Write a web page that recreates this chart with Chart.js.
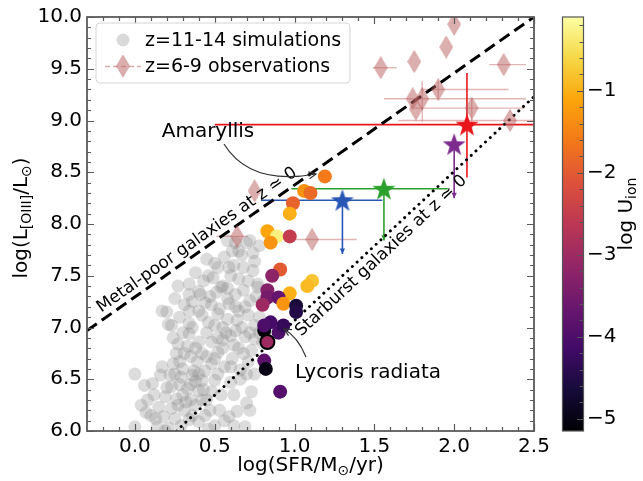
<!DOCTYPE html>
<html><head><meta charset="utf-8">
<script src="https://cdn.jsdelivr.net/npm/chart.js@4"></script>
<style>html,body{margin:0;padding:0;background:#fff}canvas{display:block}</style>
</head><body>
<canvas id="c" width="643" height="481" style="width:643px;height:481px"></canvas>
<script>
// ---------- DATA ----------
const xTicks = [0, 0.5, 1, 1.5, 2, 2.5];
const yTicks = [6, 6.5, 7, 7.5, 8, 8.5, 9, 9.5, 10];
const cbTicks = [-1, -2, -3, -4, -5];
const X_MIN = -0.3, X_MAX = 2.5, Y_MIN = 6, Y_MAX = 10, CB_MIN = -5.15, CB_MAX = -0.1;

// z=11-14 simulations (grey)
const simX = [0.63,0.70,0.61,0.56,0.45,0.78,0.75,0.68,0.59,0.49,0.43,0.34,0.27,0.55,0.65,0.71,0.77,0.63,0.51,0.58,
0.65,0.72,0.62,0.52,0.46,0.38,0.54,0.34,0.44,0.17,0.21,0.40,0.52,0.64,0.72,0.77,0.20,0.34,0.42,0.53,
0.59,0.65,0.71,0.46,0.34,0.23,0.55,0.63,0.75,0.69,0.75,0.34,0.27,0.40,0.48,0.55,0.62,0.42,0.52,0.26,
0.61,0.68,0.73,0.28,0.39,0.48,0.56,0.66,0.71,0.00,0.16,0.22,0.29,0.36,0.42,0.50,0.60,0.11,0.23,0.33,
0.40,0.48,0.73,0.12,0.19,0.26,0.35,0.45,0.04,0.15,0.23,0.31,0.38,0.59,0.64,0.10,0.18,0.25,0.34,0.40,
0.00,0.14,0.21,0.46,0.69,0.30,0.35,0.45,0.50,0.58,0.60,0.52,0.38,0.30,0.27,0.20,0.55,0.67,0.72,0.78,
0.80,0.47,0.58,0.68,0.36,0.31,0.28,0.44,0.50,0.33,0.17,0.08,0.29,0.53,0.62,0.56,0.75,0.70,0.66,0.06,
0.44,0.37,0.24,0.40,0.60,0.74,
0.30,0.38,0.45,0.52,0.57,0.43,0.47,0.35,0.25,0.32,0.28,0.40,0.54,0.60,0.65,0.70,0.63,0.58,0.48,0.41,
0.36,0.25,0.50,0.67,0.74,0.13,0.07,0.19,0.36,0.42,0.50,0.62,0.72,0.78,0.80,0.76,0.69,0.24,0.31];
const simY = [7.82,7.82,7.74,7.68,7.66,7.79,7.64,7.58,7.58,7.48,7.45,7.42,7.40,7.40,7.47,7.45,7.39,7.32,7.34,7.84,
7.74,7.84,7.60,7.58,7.50,7.53,7.39,7.32,7.24,7.16,7.03,7.16,7.13,7.07,7.26,7.42,7.15,7.16,7.12,7.18,
7.23,7.16,7.12,7.05,7.04,7.02,7.00,6.97,7.02,6.91,6.89,6.94,6.84,6.86,6.86,6.88,6.83,6.75,6.76,6.75,
6.70,6.75,6.78,6.67,6.67,6.65,6.62,6.59,6.67,6.55,6.54,6.54,6.52,6.54,6.49,6.49,6.47,6.46,6.43,6.41,
6.39,6.38,6.38,6.35,6.33,6.31,6.30,6.30,6.25,6.23,6.22,6.20,6.25,6.14,6.19,6.15,6.14,6.12,6.11,6.09,
6.04,6.04,6.03,6.02,6.04,6.60,6.72,6.95,7.02,7.08,6.92,6.55,6.48,6.35,6.25,6.42,6.80,7.00,6.95,7.10,
6.85,7.30,7.28,7.36,7.00,7.22,7.10,6.58,6.70,6.82,6.62,6.30,6.05,6.20,6.35,6.10,6.55,6.27,6.50,6.44,
6.15,6.58,6.90,7.35,7.50,7.55,
6.95,6.80,6.72,6.90,6.95,6.40,6.20,6.45,6.55,6.28,6.45,6.55,6.35,6.62,6.80,6.55,7.20,7.38,7.22,7.32,
7.25,7.28,7.62,7.70,7.72,6.12,6.18,6.00,6.15,6.30,6.05,6.05,6.20,6.95,7.25,7.30,7.20,6.65,6.75];

// simulations coloured by log U_ion
const colX = [1.19,1.06,1.10,0.99,0.97,0.83,0.89,0.97,0.85,0.91,0.86,1.11,1.08,0.83,0.83,0.97,0.90,0.93,0.80,1.01,1.01,0.85,0.81,0.90,0.93,0.81,0.83,0.81,0.82,0.91];
const colY = [8.46,8.32,8.30,8.20,8.10,7.93,7.88,7.88,7.82,7.56,7.50,7.45,7.40,7.36,7.29,7.33,7.29,7.23,7.22,7.21,7.15,7.05,6.97,6.95,7.02,7.02,6.86,6.68,6.60,6.38];
const colU = [-1.6,-1.3,-1.8,-1.9,-1.0,-1.1,-0.3,-2.5,-1.3,-2.0,-3.2,-0.8,-0.9,-3.3,-3.5,-1.0,-3.7,-1.3,-3.0,-4.6,-4.5,-4.1,-5.1,-4.0,-4.3,-4.0,-3.0,-3.8,-5.0,-3.9];

// z=6-9 observations
const obsX   = [2.00,1.95,1.75,1.54,2.31,1.90,1.74,1.80,1.76,2.11,2.35,0.75,0.64,1.11];
const obsY   = [9.93,9.71,9.57,9.51,9.54,9.30,9.21,9.21,9.11,9.12,9.00,8.32,7.88,7.85];
const obsXlo = [null,null,null,1.49,2.22,1.79,1.56,null,null,1.75,1.65,null,0.51,0.96];
const obsXhi = [null,null,null,1.64,2.45,2.34,2.45,null,null,2.44,2.60,null,0.71,1.39];
const obsYlo = [null,null,null,null,null,9.22,null,8.99,null,8.87,null,null,null,null];
const obsYhi = [null,null,null,null,null,9.38,null,9.38,null,9.21,null,null,null,null];

// highlighted objects (stars)
const starX   = [2.08,2.00,1.56,1.30];
const starY   = [8.96,8.77,8.34,8.23];
const starXlo = [0.50,null,0.98,0.79];
const starXhi = [2.60,null,1.96,1.55];
const starYlo = [8.45,8.25,7.84,7.71];
const starYhi = [9.46,8.77,8.34,8.23];
const starUpper = [false,true,true,true];
const starColors = ['#e8161b','#7d2a8e','#2ca02c','#2856b6'];

// reference relations
const metalPoorX = [-0.3, 2.5], metalPoorY = [6.97, 10.0];
const starburstX = [0.26, 2.5], starburstY = [6.0, 9.23];

// ---------- helpers ----------
const INF = ['#000004','#160b39','#420a68','#6a176e','#932667','#bc3754','#dd513a','#f37819','#fca50a','#f6d746','#fcffa4'];
function hex(h){return [parseInt(h.substr(1,2),16),parseInt(h.substr(3,2),16),parseInt(h.substr(5,2),16)];}
function inferno(u){
  let t=(u-CB_MIN)/(CB_MAX-CB_MIN); t=Math.max(0,Math.min(1,t));
  const p=t*10, i=Math.min(9,Math.floor(p)), f=p-i;
  const a=hex(INF[i]), b=hex(INF[i+1]);
  return 'rgb('+a.map((v,k)=>Math.round(v+(b[k]-v)*f)).join(',')+')';
}
function makeStar(color){
  const s=26,c=document.createElement('canvas');c.width=s;c.height=s;
  const g=c.getContext('2d');g.beginPath();
  for(let k=0;k<10;k++){const r=k%2?4.8:12;const a=-Math.PI/2+k*Math.PI/5;g.lineTo(s/2+r*Math.cos(a),s/2+r*Math.sin(a)+1);}
  g.closePath();g.fillStyle=color;g.fill();return c;
}
function makeDiamond(){
  const w=14,h=23,c=document.createElement('canvas');c.width=w;c.height=h;
  const g=c.getContext('2d');g.beginPath();
  g.moveTo(w/2,0.5);g.lineTo(w-0.5,h/2);g.lineTo(w/2,h-0.5);g.lineTo(0.5,h/2);g.closePath();
  g.fillStyle='rgba(185,95,95,0.5)';g.fill();g.strokeStyle='rgba(185,95,95,0.35)';g.lineWidth=1;g.stroke();return c;
}
const diamondImg = makeDiamond();
const FONT = '"DejaVu Sans", sans-serif';

function richText(ctx, parts, cx, cy, rot, size){
  ctx.save();ctx.translate(cx,cy);ctx.rotate(rot);
  const subSize=Math.round(size*0.7);
  let w=0;
  parts.forEach(p=>{ctx.font=(p.sub?subSize:size)+'px '+FONT;w+=ctx.measureText(p.t).width;});
  let x=-w/2;ctx.textBaseline='middle';ctx.textAlign='left';ctx.fillStyle='#000';
  parts.forEach(p=>{ctx.font=(p.sub?subSize:size)+'px '+FONT;ctx.fillText(p.t,x,p.sub?size*0.28:0);x+=ctx.measureText(p.t).width;});
  ctx.restore();
}
function arrowHead(ctx, x, y, ang, len, open){
  ctx.beginPath();
  ctx.moveTo(x-len*Math.cos(ang-0.45), y-len*Math.sin(ang-0.45));
  ctx.lineTo(x,y);
  ctx.lineTo(x-len*Math.cos(ang+0.45), y-len*Math.sin(ang+0.45));
  if(open){ctx.stroke();}else{ctx.closePath();ctx.fill();}
}

const deco = {
  id:'deco',
  beforeDatasetsDraw(chart){
    const {ctx, chartArea:a, scales:{x,y}} = chart;
    ctx.save();ctx.beginPath();ctx.rect(a.left,a.top,a.right-a.left,a.bottom-a.top);ctx.clip();
    ctx.strokeStyle='rgba(200,110,110,0.5)';ctx.lineWidth=1.4;
    obsX.forEach((vx,i)=>{
      if(obsXlo[i]!==null){ctx.beginPath();ctx.moveTo(x.getPixelForValue(obsXlo[i]),y.getPixelForValue(obsY[i]));ctx.lineTo(x.getPixelForValue(obsXhi[i]),y.getPixelForValue(obsY[i]));ctx.stroke();}
      if(obsYlo[i]!==null){ctx.beginPath();ctx.moveTo(x.getPixelForValue(vx),y.getPixelForValue(obsYlo[i]));ctx.lineTo(x.getPixelForValue(vx),y.getPixelForValue(obsYhi[i]));ctx.stroke();}
    });
    starX.forEach((vx,i)=>{
      ctx.strokeStyle=starColors[i];ctx.fillStyle=starColors[i];ctx.lineWidth=1.6;
      const px=x.getPixelForValue(vx), py=y.getPixelForValue(starY[i]);
      if(starXlo[i]!==null){ctx.beginPath();ctx.moveTo(x.getPixelForValue(starXlo[i]),py);ctx.lineTo(x.getPixelForValue(starXhi[i]),py);ctx.stroke();}
      const y1=y.getPixelForValue(starYhi[i]), y2=y.getPixelForValue(starYlo[i]);
      ctx.beginPath();ctx.moveTo(px,y1);ctx.lineTo(px,y2);ctx.stroke();
      if(starUpper[i]){arrowHead(ctx,px,y2,Math.PI/2,6,false);}
    });
    ctx.restore();
  },
  afterDraw(chart){
    const {ctx, chartArea:a, scales:{x,y,cb}} = chart;
    ctx.save();
    function lineLabel(xs,ys,frac,text,off){
      const x0=x.getPixelForValue(xs[0]),y0=y.getPixelForValue(ys[0]),x1=x.getPixelForValue(xs[1]),y1=y.getPixelForValue(ys[1]);
      const ang=Math.atan2(y1-y0,x1-x0);
      ctx.save();ctx.translate(x0+(x1-x0)*frac,y0+(y1-y0)*frac);ctx.rotate(ang);
      ctx.font='17px '+FONT;ctx.fillStyle='#000';ctx.textAlign='center';ctx.textBaseline='middle';
      ctx.fillText(text,0,off);ctx.restore();
    }
    lineLabel(metalPoorX,metalPoorY,0.26,'Metal-poor galaxies at z \u2243 0',-11);
    lineLabel(starburstX,starburstY,0.55,'Starburst galaxies at z \u2243 0',12);

    ctx.fillStyle='#000';ctx.font='20px '+FONT;ctx.textBaseline='middle';
    ctx.textAlign='center';ctx.fillText('Amaryllis',208,132);
    ctx.textAlign='left';ctx.fillText('Lycoris radiata',295,373);
    ctx.strokeStyle='#333';ctx.lineWidth=1.2;
    ctx.beginPath();ctx.moveTo(224,144);ctx.quadraticCurveTo(250,186,316,174);ctx.stroke();
    arrowHead(ctx,316,174,Math.atan2(174-186,316-250),8,true);
    ctx.beginPath();ctx.moveTo(306,357);ctx.quadraticCurveTo(298,337,284,329);ctx.stroke();
    arrowHead(ctx,284,329,Math.atan2(329-337,284-298),8,true);

    ctx.strokeStyle='#5a5a5a';ctx.lineWidth=1.2;
    for(let k=Math.ceil(X_MIN*10+1e-6);k<=Math.floor(X_MAX*10+1e-6);k++){
      const v=k/10, px=Math.round(x.getPixelForValue(v))+0.5, major=(k%5===0), L=major?7:4;
      ctx.beginPath();ctx.moveTo(px,a.bottom);ctx.lineTo(px,a.bottom-L);ctx.moveTo(px,a.top);ctx.lineTo(px,a.top+L);ctx.stroke();
    }
    for(let k=Math.ceil(Y_MIN*10);k<=Math.floor(Y_MAX*10);k++){
      const v=k/10, py=Math.round(y.getPixelForValue(v))+0.5, major=(k%5===0), L=major?7:4;
      ctx.beginPath();ctx.moveTo(a.left,py);ctx.lineTo(a.left+L,py);ctx.moveTo(a.right,py);ctx.lineTo(a.right-L,py);ctx.stroke();
    }
    ctx.lineWidth=1.8;ctx.strokeRect(a.left,a.top,a.right-a.left,a.bottom-a.top);

    richText(ctx,[{t:'log(SFR/M'},{t:'\u2299',sub:true},{t:'/yr)'}],(a.left+a.right)/2,466,0,20);
    richText(ctx,[{t:'log(L'},{t:'[OIII]',sub:true},{t:'/L'},{t:'\u2299',sub:true},{t:')'}],22,218,-Math.PI/2,20);

    const lx=96,ly=23,lw=254,lh=60,r=4;
    ctx.beginPath();ctx.moveTo(lx+r,ly);ctx.arcTo(lx+lw,ly,lx+lw,ly+lh,r);ctx.arcTo(lx+lw,ly+lh,lx,ly+lh,r);ctx.arcTo(lx,ly+lh,lx,ly,r);ctx.arcTo(lx,ly,lx+lw,ly,r);ctx.closePath();
    ctx.fillStyle='rgba(255,255,255,0.85)';ctx.fill();ctx.strokeStyle='#d6d6d6';ctx.lineWidth=1;ctx.stroke();
    ctx.fillStyle='rgba(128,128,128,0.3)';ctx.beginPath();ctx.arc(123,40,6.5,0,Math.PI*2);ctx.fill();
    ctx.strokeStyle='rgba(200,110,110,0.6)';ctx.lineWidth=1.4;ctx.setLineDash([5,3]);
    ctx.beginPath();ctx.moveTo(105,66.5);ctx.lineTo(141,66.5);ctx.stroke();ctx.setLineDash([]);
    ctx.drawImage(diamondImg,123-diamondImg.width/2,66-diamondImg.height/2);
    ctx.fillStyle='#000';ctx.font='19px '+FONT;ctx.textAlign='left';ctx.textBaseline='middle';
    ctx.fillText('z=11-14 simulations',145,41);ctx.fillText('z=6-9 observations',145,67);

    const cx0=562,cw=21, ct=cb.getPixelForValue(CB_MAX), cbt=cb.getPixelForValue(CB_MIN);
    const grad=ctx.createLinearGradient(0,cbt,0,ct);
    INF.forEach((c,i)=>grad.addColorStop(i/10,c));
    ctx.fillStyle=grad;ctx.fillRect(cx0,ct,cw,cbt-ct);
    ctx.strokeStyle='#555';ctx.lineWidth=1;
    for(let k=Math.ceil(CB_MIN*5);k<=Math.floor(CB_MAX*5);k++){
      const v=k/5, py=Math.round(cb.getPixelForValue(v))+0.5, major=(k%5===0), L=major?6:3.5;
      ctx.beginPath();ctx.moveTo(cx0+cw,py);ctx.lineTo(cx0+cw-L,py);ctx.stroke();
    }
    ctx.lineWidth=1.2;ctx.strokeRect(cx0+0.5,ct,cw,cbt-ct);
    ctx.fillStyle='#000';ctx.font='20px '+FONT;ctx.textAlign='left';ctx.textBaseline='middle';
    cbTicks.forEach(v=>ctx.fillText('\u2212'+Math.abs(v),587,cb.getPixelForValue(v)));
    richText(ctx,[{t:'log U'},{t:'ion',sub:true}],627,214,-Math.PI/2,20);
    ctx.restore();
  }
};

const chart = new Chart(document.getElementById('c'), {
  type:'scatter',
  data:{datasets:[
    {label:'sims', data:simX.map((v,i)=>({x:v,y:simY[i]})), pointRadius:6.5, pointBackgroundColor:'rgba(128,128,128,0.28)', pointBorderWidth:0, order:6, clip:0},
    {label:'metal-poor', data:metalPoorX.map((v,i)=>({x:v,y:metalPoorY[i]})), showLine:true, pointRadius:0, borderColor:'#000', borderWidth:3, borderDash:[12,6], order:5, clip:0},
    {label:'starburst', data:starburstX.map((v,i)=>({x:v,y:starburstY[i]})), showLine:true, pointRadius:0, borderColor:'#000', borderWidth:3, borderDash:[0.01,6.5], borderCapStyle:'round', order:5, clip:0},
    {label:'colored', data:colX.map((v,i)=>({x:v,y:colY[i]})), pointRadius:7, pointBackgroundColor:colU.map(inferno), pointBorderWidth:colU.map((u,i)=>i===26?2:0), pointBorderColor:'#000', order:3, clip:0},
    {label:'obs', data:obsX.map((v,i)=>({x:v,y:obsY[i]})), pointStyle:diamondImg, pointRadius:8, order:2, clip:0},
    {label:'stars', data:starX.map((v,i)=>({x:v,y:starY[i]})), pointStyle:starColors.map(makeStar), pointRadius:10, order:1, clip:0}
  ]},
  options:{
    responsive:false, devicePixelRatio:1, animation:false,
    layout:{padding:{left:0,top:15,right:109,bottom:0}, autoPadding:false},
    plugins:{legend:{display:false}, tooltip:{enabled:false}},
    events:[],
    scales:{
      x:{type:'linear', position:'bottom', min:X_MIN, max:X_MAX,
        afterBuildTicks:s=>{s.ticks=xTicks.map(v=>({value:v}));},
        afterFit:s=>{s.height=50;},
        grid:{display:false, drawTicks:false}, border:{display:false},
        ticks:{font:{family:FONT,size:20}, color:'#000', padding:4, maxRotation:0, autoSkip:false, callback:v=>Number(v).toFixed(1)}},
      y:{type:'linear', position:'left', min:Y_MIN, max:Y_MAX,
        afterBuildTicks:s=>{s.ticks=yTicks.map(v=>({value:v}));},
        afterFit:s=>{s.width=87;},
        grid:{display:false, drawTicks:false}, border:{display:false},
        ticks:{font:{family:FONT,size:20}, color:'#000', padding:5, autoSkip:false, callback:v=>Number(v).toFixed(1)}},
      cb:{type:'linear', axis:'y', position:'right', display:false, min:CB_MIN, max:CB_MAX}
    }
  },
  plugins:[deco]
});
</script>
</body></html>
